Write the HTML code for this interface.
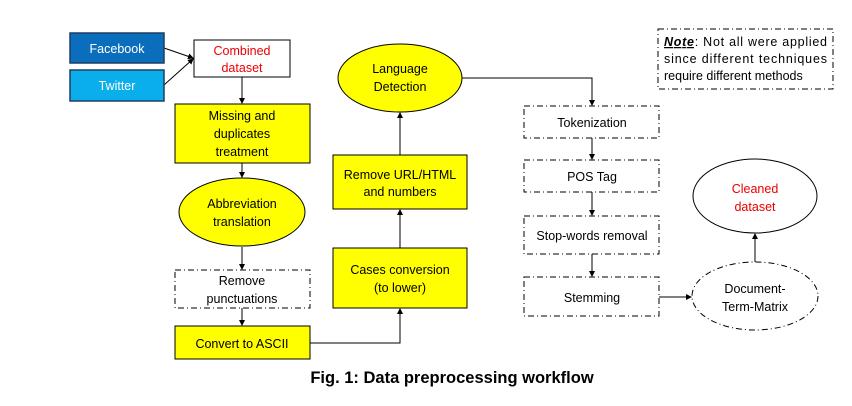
<!DOCTYPE html>
<html><head><meta charset="utf-8"><style>
body{margin:0;background:#fff;}
svg text{font-family:"Liberation Sans",sans-serif;font-size:12.5px;text-anchor:middle;}
</style></head><body>
<svg width="852" height="401" xmlns="http://www.w3.org/2000/svg">
<defs><marker id="a" markerWidth="6" markerHeight="6" refX="5" refY="3" orient="auto"><path d="M0,0 L6,3 L0,6 z" fill="#000"/></marker></defs>
<g stroke="#000" stroke-width="1" fill="none">
<line x1="164" y1="48" x2="193" y2="58" marker-end="url(#a)"/>
<line x1="164" y1="85" x2="193" y2="59" marker-end="url(#a)"/>
<line x1="242" y1="77" x2="242" y2="103" marker-end="url(#a)"/>
<line x1="242" y1="163" x2="242" y2="177" marker-end="url(#a)"/>
<line x1="242" y1="247" x2="242" y2="269" marker-end="url(#a)"/>
<line x1="242" y1="308" x2="242" y2="325" marker-end="url(#a)"/>
<polyline points="310,343 400,343 400,309" marker-end="url(#a)"/>
<line x1="400" y1="248" x2="400" y2="210" marker-end="url(#a)"/>
<line x1="400" y1="155" x2="400" y2="113" marker-end="url(#a)"/>
<polyline points="462,78 592,78 592,105" marker-end="url(#a)"/>
<line x1="592" y1="138" x2="592" y2="159" marker-end="url(#a)"/>
<line x1="592" y1="192" x2="592" y2="215" marker-end="url(#a)"/>
<line x1="592" y1="254" x2="592" y2="276" marker-end="url(#a)"/>
<line x1="659" y1="297" x2="691" y2="297" marker-end="url(#a)"/>
<polyline points="755,262 755,248 755,234" marker-end="url(#a)"/>
</g>
<rect x="70" y="33" width="94" height="30" fill="#0a6ebd" stroke="#1d3e63" stroke-width="1.5"/>
<text x="117" y="53" fill="#fff">Facebook</text>
<rect x="70" y="70" width="94" height="31" fill="#0aaeea" stroke="#1d3e63" stroke-width="1.5"/>
<text x="117" y="90" fill="#fff">Twitter</text>
<rect x="194" y="40" width="96" height="37" fill="#fff" stroke="#000"/>
<text x="242" y="55" fill="#e00">Combined</text><text x="242" y="72" fill="#e00">dataset</text>
<g fill="#ffff00" stroke="#000">
<rect x="175" y="104" width="135" height="59"/>
<ellipse cx="242" cy="212" rx="63" ry="34"/>
<rect x="175" y="326" width="135" height="33"/>
<rect x="333" y="248" width="134" height="60"/>
<rect x="333" y="155" width="134" height="54"/>
<ellipse cx="400" cy="78" rx="62" ry="34"/>
</g>
<g fill="#fff" stroke="#000" stroke-dasharray="6,3,1,3">
<rect x="175" y="270" width="135" height="38"/>
<rect x="524" y="106" width="135" height="32"/>
<rect x="524" y="160" width="135" height="32"/>
<rect x="524" y="216" width="135" height="38"/>
<rect x="524" y="277" width="135" height="39"/>
<rect x="658" y="29" width="175" height="60"/>
<ellipse cx="755" cy="296" rx="63" ry="34"/>
</g>
<ellipse cx="755" cy="196" rx="62" ry="37" fill="#fff" stroke="#000"/>
<text x="242" y="120">Missing and</text><text x="242" y="138">duplicates</text><text x="242" y="156">treatment</text>
<text x="242" y="208">Abbreviation</text><text x="242" y="226">translation</text>
<text x="242" y="285">Remove</text><text x="242" y="303">punctuations</text>
<text x="242" y="348">Convert to ASCII</text>
<text x="400" y="274">Cases conversion</text><text x="400" y="292">(to lower)</text>
<text x="400" y="179">Remove URL/HTML</text><text x="400" y="196">and numbers</text>
<text x="400" y="73">Language</text><text x="400" y="91">Detection</text>
<text x="592" y="127">Tokenization</text>
<text x="592" y="181">POS Tag</text>
<text x="592" y="240">Stop-words removal</text>
<text x="592" y="302">Stemming</text>
<text x="755" y="193" fill="#e00">Cleaned</text><text x="755" y="211" fill="#e00">dataset</text>
<text x="755" y="293">Document-</text><text x="755" y="311">Term-Matrix</text>
<text x="664" y="46" style="text-anchor:start" textLength="163"><tspan font-weight="bold" font-style="italic" text-decoration="underline">Note</tspan>: Not all were applied</text>
<text x="664" y="63" style="text-anchor:start" textLength="163">since different techniques</text>
<text x="664" y="80" style="text-anchor:start">require different methods</text>
<text x="452" y="383" style="font-size:16.5px;font-weight:bold">Fig. 1: Data preprocessing workflow</text>
</svg>
</body></html>
